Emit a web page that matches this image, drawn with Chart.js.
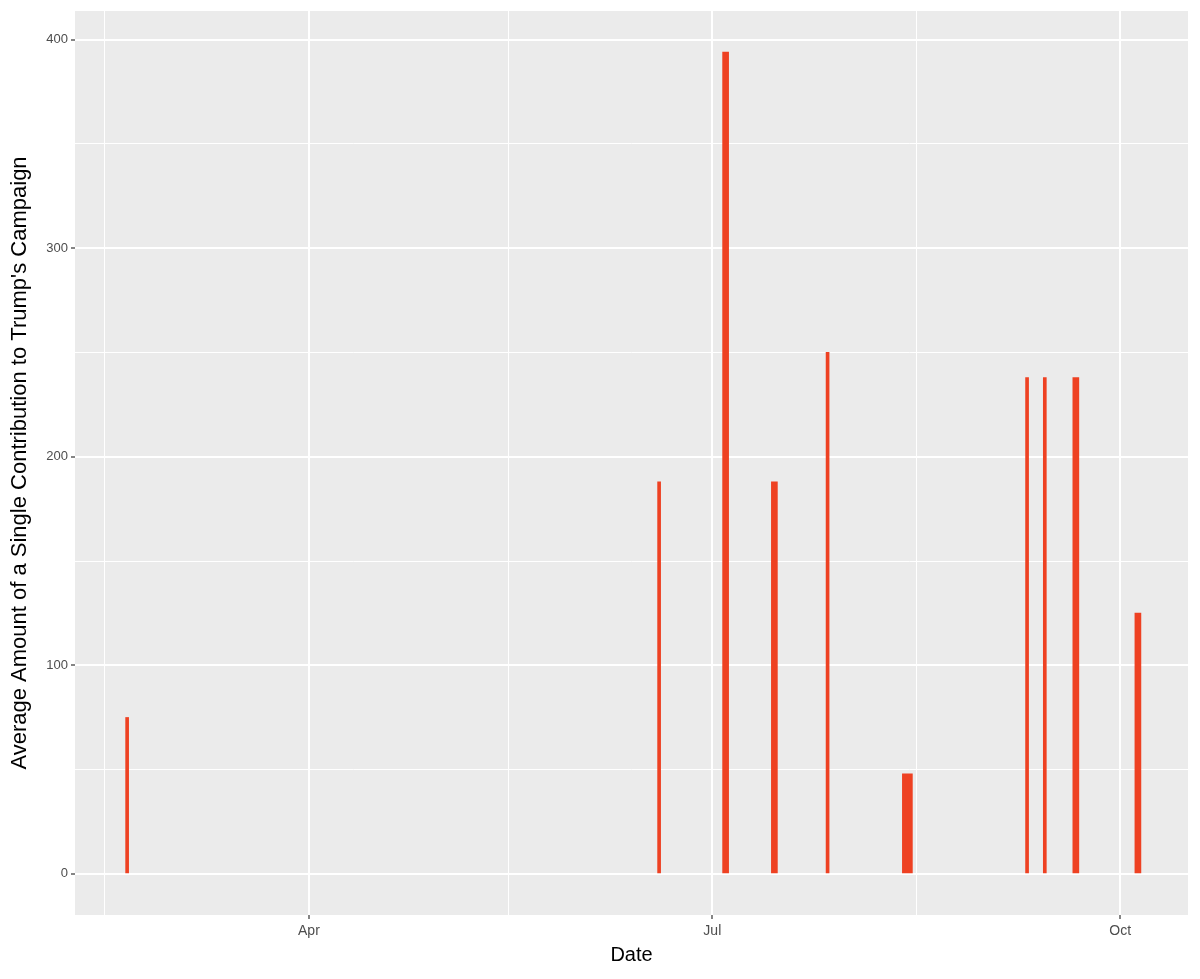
<!DOCTYPE html>
<html>
<head>
<meta charset="utf-8">
<script src="https://cdn.jsdelivr.net/npm/chart.js@4.4.1/dist/chart.umd.min.js"></script>
<style>
  html, body { margin: 0; padding: 0; background: #ffffff; }
  #wrap { width: 1200px; height: 979px; position: relative; }
</style>
</head>
<body>
<div id="wrap"><canvas id="trumpChart"></canvas></div>
<script>
// --- dados ---
const barDates = ['2016-02-20', '2016-06-19', '2016-07-04', '2016-07-15', '2016-07-27',
                  '2016-08-14', '2016-09-10', '2016-09-14', '2016-09-21', '2016-10-05'];
const barAmounts = [75, 188, 394, 188, 250, 48, 238, 238, 238, 125];

const xMajorDates = ['2016-04-01', '2016-07-01', '2016-10-01'];
const xMajorLabels = ['Apr', 'Jul', 'Oct'];
const xMinorDates = ['2016-02-15', '2016-05-16', '2016-08-16'];

const yMajorTicks = [0, 100, 200, 300, 400];
const yMinorTicks = [50, 150, 250, 350];

// --- estilo (larguras das barras, em px) ---
const wideBars = { '2016-07-04': 6, '2016-07-15': 6, '2016-08-14': 10, '2016-09-21': 6, '2016-10-05': 6 };
const thinBar = 3;
const barColor = '#EE4122';

function dayOfYear(iso) {
    const [y, m, d] = iso.split('-').map(Number);
    return (Date.UTC(y, m - 1, d) - Date.UTC(2016, 0, 1)) / 86400000;
}

const xMajor = xMajorDates.map(dayOfYear);
const xMinor = xMinorDates.map(dayOfYear);

// agrupa as barras por espessura (um dataset por espessura)
const byThickness = {};
barDates.forEach((d, i) => {
    const t = wideBars[d] || thinBar;
    if (!byThickness[t]) byThickness[t] = [];
    byThickness[t].push({ x: dayOfYear(d), y: barAmounts[i] });
});
const datasets = Object.keys(byThickness).map(t => ({
    data: byThickness[t],
    backgroundColor: barColor,
    borderWidth: 0,
    barThickness: Number(t),
    grouped: false
}));

const panelBg = {
    id: 'panelBg',
    beforeDraw(chart) {
        const { ctx, chartArea: { left, top, width, height } } = chart;
        ctx.save();
        ctx.fillStyle = '#EBEBEB';
        ctx.fillRect(left, top, width, height);
        ctx.restore();
    }
};

const fontFamily = '"Liberation Sans", Arial, Helvetica, sans-serif';

new Chart(document.getElementById('trumpChart'), {
    type: 'bar',
    data: { datasets: datasets },
    options: {
        responsive: true,
        maintainAspectRatio: false,
        animation: false,
        layout: { padding: { top: 11, right: 12, bottom: 0, left: 0 } },
        plugins: {
            legend: { display: false },
            tooltip: { enabled: false }
        },
        scales: {
            x: {
                type: 'linear',
                min: 38.24,
                max: 289.3,
                offset: false,
                border: { display: false },
                grid: {
                    offset: false,
                    color: '#ffffff',
                    lineWidth: c => (c.tick && xMajor.includes(c.tick.value)) ? 2 : 1,
                    drawTicks: true,
                    tickLength: 4,
                    tickWidth: 1.2,
                    tickColor: c => (c.tick && xMajor.includes(c.tick.value)) ? '#333333' : 'rgba(0,0,0,0)'
                },
                afterBuildTicks: scale => {
                    scale.ticks = xMinor.concat(xMajor).sort((a, b) => a - b).map(v => ({ value: v }));
                },
                afterFit: scale => { scale.height = 64; },
                ticks: {
                    autoSkip: false,
                    maxRotation: 0,
                    padding: 4,
                    color: '#4D4D4D',
                    font: { family: fontFamily, size: 14 },
                    callback: value => {
                        const i = xMajor.indexOf(value);
                        return i >= 0 ? xMajorLabels[i] : '';
                    }
                },
                title: {
                    display: true,
                    text: 'Date',
                    color: '#000000',
                    font: { family: fontFamily, size: 20 },
                    padding: { top: 0, bottom: 12 }
                }
            },
            y: {
                type: 'linear',
                min: -19.7,
                max: 413.7,
                border: { display: false },
                grid: {
                    color: '#ffffff',
                    lineWidth: c => (c.tick && yMajorTicks.includes(c.tick.value)) ? 2 : 1,
                    drawTicks: true,
                    tickLength: 4,
                    tickWidth: 1.2,
                    tickColor: c => (c.tick && yMajorTicks.includes(c.tick.value)) ? '#333333' : 'rgba(0,0,0,0)'
                },
                afterBuildTicks: scale => {
                    scale.ticks = yMinorTicks.concat(yMajorTicks).sort((a, b) => a - b).map(v => ({ value: v }));
                },
                afterFit: scale => { scale.width = 75; },
                ticks: {
                    autoSkip: false,
                    padding: 3,
                    color: '#4D4D4D',
                    font: { family: fontFamily, size: 13 },
                    callback: value => yMajorTicks.includes(value) ? String(value) : ''
                },
                title: {
                    display: true,
                    text: "Average Amount of a Single Contribution to Trump's Campaign",
                    color: '#000000',
                    font: { family: fontFamily, size: 22 },
                    padding: { top: 7, bottom: 0 }
                }
            }
        }
    },
    plugins: [panelBg]
});
</script>
</body>
</html>
